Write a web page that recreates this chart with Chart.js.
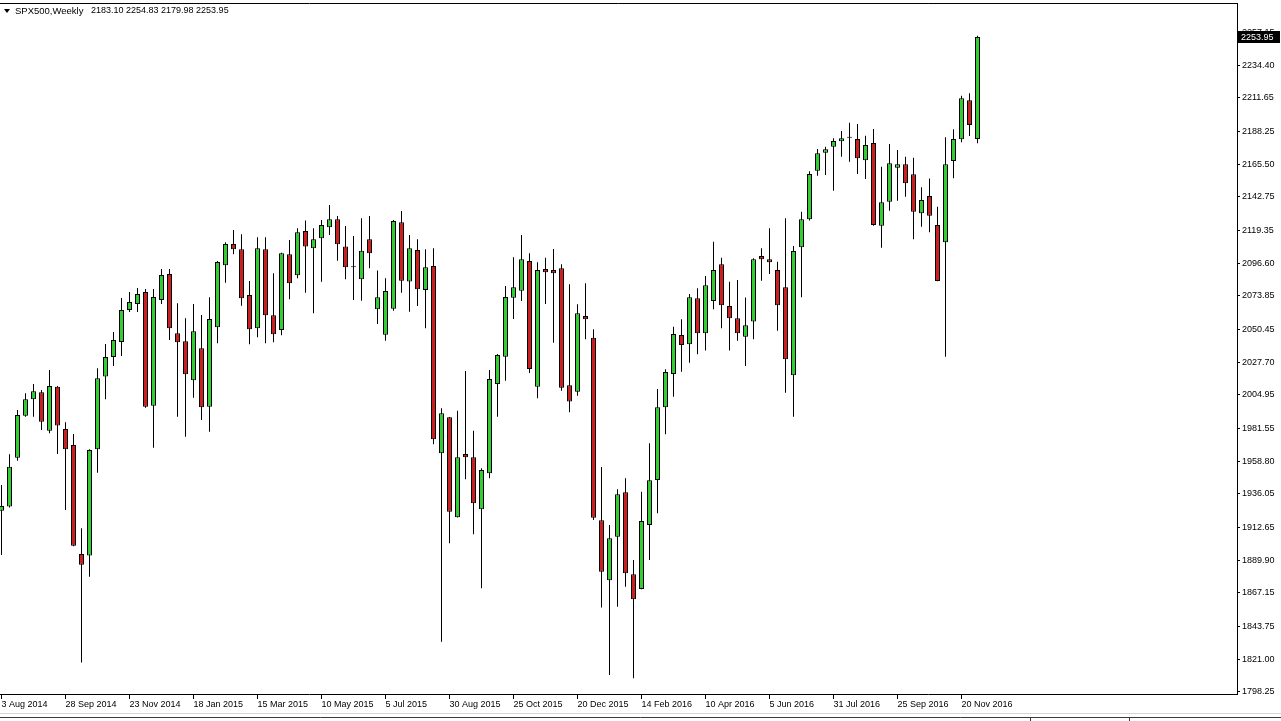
<!DOCTYPE html>
<html>
<head>
<meta charset="utf-8">
<title>SPX500,Weekly</title>
<script src="https://cdn.jsdelivr.net/npm/chart.js@4.4.1/dist/chart.umd.min.js"></script>
<style>
  html, body { margin: 0; padding: 0; background: #fff; }
  #wrap { width: 1281px; height: 721px; position: relative; }
</style>
</head>
<body>
<div id="wrap"><canvas id="chart" width="1281" height="721"></canvas></div>
<script>
const symbolTitle = 'SPX500,Weekly';
const lastBar = ['2183.10', '2254.83', '2179.98', '2253.95'];

// one tick label every 8 weeks, starting at the first candle
const xTickLabels = [
    '3 Aug 2014', '28 Sep 2014', '23 Nov 2014', '18 Jan 2015', '15 Mar 2015', '10 May 2015',
    '5 Jul 2015', '30 Aug 2015', '25 Oct 2015', '20 Dec 2015', '14 Feb 2016', '10 Apr 2016',
    '5 Jun 2016', '31 Jul 2016', '25 Sep 2016', '20 Nov 2016',
];

const yTickValues = [
    1798.25, 1821.00, 1843.75, 1867.15, 1889.90, 1912.65, 1936.05, 1958.80, 1981.55, 2004.95, 2027.70,
    2050.45, 2073.85, 2096.60, 2119.35, 2142.75, 2165.50, 2188.25, 2211.65, 2234.40, 2257.15,
];

// weekly candles, 3 Aug 2014 .. 4 Dec 2016
const openPrices = [
    1924.3, 1927.1, 1961.2, 1990.4, 2001.8, 2006.7, 1980.0, 2010.6, 1981.2, 1970.0,
    1894.1, 1893.0, 1967.0, 2017.6, 2031.3, 2041.7, 2064.0, 2068.2, 2076.5, 1997.4,
    2071.0, 2089.1, 2047.8, 2042.2, 2015.1, 2037.3, 1996.7, 2052.0, 2095.1, 2109.9,
    2106.2, 2074.4, 2051.3, 2106.2, 2060.3, 2050.1, 2102.8, 2088.1, 2119.0, 2106.9,
    2113.9, 2121.6, 2127.1, 2108.1, 2093.7, 2085.4, 2113.2, 2064.5, 2046.8, 2064.9,
    2125.0, 2083.9, 2105.8, 2077.9, 2094.6, 1964.2, 1989.3, 1919.7, 1963.8, 1961.4,
    1925.3, 1950.3, 2012.5, 2031.5, 2072.5, 2077.4, 2098.1, 2010.6, 2092.5, 2091.8,
    2093.0, 2011.6, 2007.1, 2059.8, 2044.7, 1917.6, 1875.8, 1906.2, 1937.1, 1880.0,
    1869.8, 1914.3, 1945.6, 1996.3, 2019.4, 2046.6, 2040.1, 2072.1, 2047.8, 2070.3,
    2095.8, 2066.8, 2058.2, 2045.4, 2055.9, 2101.6, 2099.3, 2091.8, 2079.8, 2018.5,
    2107.6, 2127.1, 2161.0, 2173.5, 2177.7, 2181.4, 2183.9, 2183.0, 2168.2, 2180.3,
    2122.7, 2139.4, 2163.0, 2165.4, 2158.4, 2131.3, 2143.3, 2123.2, 2111.1, 2167.7,
    2182.8, 2210.0, 2183.10,
];
const highPrices = [
    1942.2, 1963.5, 1994.4, 2006.0, 2012.5, 2008.3, 2022.2, 2011.1, 1985.8, 1977.7,
    1912.0, 1967.0, 2023.4, 2040.3, 2048.7, 2072.3, 2076.5, 2079.3, 2078.6, 2078.6,
    2092.5, 2092.5, 2068.7, 2058.2, 2068.2, 2060.5, 2072.8, 2098.1, 2111.1, 2119.7,
    2116.7, 2084.2, 2114.6, 2114.6, 2089.5, 2103.8, 2112.7, 2120.9, 2126.2, 2120.9,
    2126.6, 2137.1, 2129.4, 2122.5, 2115.5, 2127.8, 2129.4, 2091.4, 2086.0, 2126.6,
    2132.9, 2116.2, 2113.2, 2106.2, 2106.9, 1995.6, 1989.5, 1993.9, 2021.5, 1980.0,
    1953.8, 2022.2, 2033.4, 2080.7, 2100.7, 2116.2, 2103.5, 2097.2, 2100.4, 2106.5,
    2095.8, 2081.9, 2067.9, 2082.6, 2050.6, 1954.7, 1914.3, 1939.2, 1946.8, 1890.0,
    1937.5, 1971.2, 2009.0, 2022.7, 2052.4, 2057.5, 2075.1, 2079.1, 2087.7, 2111.5,
    2100.4, 2083.7, 2084.9, 2072.6, 2100.0, 2106.9, 2120.9, 2097.6, 2127.8, 2108.5,
    2132.4, 2160.5, 2176.0, 2177.7, 2183.5, 2188.6, 2194.4, 2193.5, 2185.3, 2190.0,
    2163.7, 2179.5, 2175.4, 2170.7, 2170.0, 2149.4, 2155.6, 2135.9, 2184.2, 2189.8,
    2213.2, 2214.8, 2254.83,
];
const lowPrices = [
    1893.4, 1926.5, 1959.1, 1989.7, 1989.7, 1980.5, 1978.2, 1963.8, 1924.8, 1899.5,
    1818.5, 1878.3, 1950.7, 2001.8, 2025.0, 2032.0, 2062.6, 2062.6, 1996.0, 1968.1,
    2068.2, 2043.1, 1989.7, 1975.8, 2002.9, 1987.4, 1979.3, 2040.8, 2083.0, 2102.8,
    2067.0, 2040.1, 2045.0, 2040.8, 2041.5, 2046.4, 2071.4, 2086.0, 2076.0, 2061.7,
    2083.7, 2116.2, 2098.3, 2085.4, 2071.0, 2070.5, 2093.0, 2054.2, 2042.6, 2063.5,
    2076.0, 2062.8, 2066.8, 2051.3, 1970.5, 1833.1, 1901.6, 1919.5, 1946.1, 1907.9,
    1870.3, 1946.8, 1989.7, 2014.8, 2057.7, 2070.3, 2020.1, 2002.5, 2068.2, 2041.2,
    2007.8, 1992.8, 2004.3, 2043.6, 1917.8, 1856.8, 1809.9, 1857.4, 1871.4, 1807.6,
    1869.5, 1890.0, 1922.5, 1977.4, 2003.6, 2021.0, 2027.3, 2033.2, 2035.7, 2064.5,
    2051.3, 2035.7, 2042.6, 2025.0, 2043.6, 2084.4, 2089.0, 2049.6, 2006.4, 1989.7,
    2072.8, 2126.2, 2157.5, 2157.9, 2147.0, 2170.7, 2167.2, 2158.7, 2155.2, 2122.7,
    2107.4, 2133.1, 2140.1, 2142.9, 2113.2, 2122.0, 2118.1, 2084.0, 2031.5, 2155.7,
    2180.7, 2185.1, 2179.98,
];
const closePrices = [
    1927.5, 1954.9, 1990.9, 2001.8, 2007.4, 1986.2, 2011.1, 1983.5, 1967.0, 1899.9,
    1886.7, 1966.5, 2016.4, 2031.3, 2043.1, 2064.0, 2069.6, 2075.1, 1996.7, 2073.0,
    2088.4, 2051.3, 2041.5, 2019.2, 2049.2, 1996.3, 2057.7, 2097.4, 2109.9, 2106.2,
    2072.1, 2050.6, 2106.9, 2060.3, 2047.1, 2103.5, 2082.6, 2118.1, 2108.1, 2113.2,
    2123.2, 2127.1, 2109.7, 2093.7, 2094.4, 2105.3, 2103.5, 2072.8, 2077.2, 2126.0,
    2084.4, 2106.9, 2078.4, 2093.7, 1974.0, 1992.1, 1923.6, 1961.4, 1961.4, 1929.4,
    1952.6, 2016.0, 2032.7, 2073.0, 2079.9, 2099.3, 2022.9, 2091.8, 2090.2, 2089.5,
    2009.9, 2000.2, 2061.7, 2057.5, 1919.4, 1881.8, 1905.1, 1935.7, 1880.7, 1862.6,
    1917.1, 1945.4, 1996.3, 2020.8, 2047.3, 2039.6, 2072.8, 2047.8, 2081.2, 2091.8,
    2067.3, 2058.2, 2047.8, 2053.3, 2099.3, 2099.3, 2097.2, 2067.3, 2029.7, 2105.1,
    2127.1, 2158.7, 2173.1, 2175.9, 2181.6, 2183.5, 2184.6, 2169.6, 2178.9, 2123.2,
    2139.0, 2166.1, 2165.4, 2152.2, 2132.4, 2140.6, 2129.6, 2084.2, 2165.4, 2183.0,
    2211.4, 2192.8, 2253.95,
];

const bullColor = '#32cd32';
const bearColor = '#cc1f1f';

const bodies = openPrices.map((o, i) => ({ x: i, y: [o, closePrices[i]] }));
const wicks = lowPrices.map((l, i) => ({ x: i, y: [l, highPrices[i]] }));
const bodyColors = openPrices.map((o, i) => (closePrices[i] >= o ? bullColor : bearColor));

Chart.defaults.font.family = '"Liberation Sans", Arial, sans-serif';
Chart.defaults.font.size = 9;
Chart.defaults.color = '#000';

const PX_PER_WEEK = 8;
const X_MIN = -0.1875;

const terminalDecor = {
    id: 'terminalDecor',
    afterDraw(chart) {
        const { ctx, chartArea, scales, width } = chart;
        ctx.save();
        // top frame line
        ctx.strokeStyle = '#000';
        ctx.lineWidth = 1;
        ctx.beginPath();
        ctx.moveTo(chartArea.left, chartArea.top + 0.5);
        ctx.lineTo(chartArea.right + 0.5, chartArea.top + 0.5);
        ctx.stroke();

        // tab strip under the time scale
        ctx.strokeStyle = '#d6d6d6';
        ctx.beginPath();
        ctx.moveTo(0, 713.5);
        ctx.lineTo(width, 713.5);
        ctx.stroke();
        ctx.strokeStyle = '#3a3a3a';
        ctx.beginPath();
        ctx.moveTo(0, 717.5);
        ctx.lineTo(width, 717.5);
        ctx.moveTo(1030.5, 717.5);
        ctx.lineTo(1030.5, 721);
        ctx.moveTo(1129.5, 717.5);
        ctx.lineTo(1129.5, 721);
        ctx.stroke();

        // title with the last bar's OHLC
        ctx.fillStyle = '#000';
        ctx.beginPath();
        ctx.moveTo(4, 9);
        ctx.lineTo(10, 9);
        ctx.lineTo(7, 13);
        ctx.closePath();
        ctx.fill();
        ctx.font = '9.5px "Liberation Sans", Arial, sans-serif';
        ctx.textBaseline = 'middle';
        ctx.textAlign = 'left';
        ctx.fillText(symbolTitle, 15, 11);
        ctx.font = '9px "Liberation Sans", Arial, sans-serif';
        ctx.fillText(lastBar.join(' '), 91, 11);

        // last price marker on the price scale
        const py = Math.round(scales.y.getPixelForValue(closePrices[closePrices.length - 1]));
        ctx.fillStyle = '#000';
        ctx.fillRect(chartArea.right + 1, py - 6, 42, 12);
        ctx.fillStyle = '#fff';
        ctx.fillText(lastBar[3], chartArea.right + 4, py + 0.5);
        ctx.restore();
    },
};

new Chart(document.getElementById('chart'), {
    type: 'bar',
    data: {
        datasets: [
            {
                label: 'body',
                data: bodies,
                backgroundColor: bodyColors,
                borderColor: '#000',
                borderWidth: 1,
                borderSkipped: false,
                barThickness: 5,
                grouped: false,
                inflateAmount: 0,
                order: 0,
            },
            {
                label: 'wick',
                data: wicks,
                backgroundColor: '#000',
                borderWidth: 0,
                barThickness: 1,
                grouped: false,
                inflateAmount: 0,
                order: 1,
            },
        ],
    },
    options: {
        responsive: false,
        animation: false,
        devicePixelRatio: 1,
        layout: { padding: { top: 3, left: 0, right: 0, bottom: 0 } },
        plugins: {
            legend: { display: false },
            tooltip: { enabled: false },
        },
        scales: {
            x: {
                type: 'linear',
                position: 'bottom',
                offset: false,
                min: X_MIN,
                max: X_MIN + 1237 / PX_PER_WEEK,
                grid: {
                    offset: false,
                    drawOnChartArea: false,
                    drawTicks: true,
                    tickLength: 5,
                    color: '#000',
                },
                border: { display: true, color: '#000', width: 1 },
                ticks: {
                    autoSkip: false,
                    maxRotation: 0,
                    minRotation: 0,
                    align: 'start',
                    padding: 0,
                    color: '#000',
                    callback: (value, index) => xTickLabels[index],
                },
                afterBuildTicks: (axis) => {
                    axis.ticks = xTickLabels.map((_, k) => ({ value: k * PX_PER_WEEK }));
                },
                afterFit: (axis) => {
                    axis.height = 27;
                    axis.paddingLeft = 0;
                    axis.paddingRight = 0;
                },
            },
            y: {
                type: 'linear',
                position: 'right',
                min: 1796.65,
                max: 2277.7,
                beginAtZero: false,
                grid: {
                    drawOnChartArea: false,
                    drawTicks: true,
                    tickLength: 3,
                    color: '#000',
                },
                border: { display: true, color: '#000', width: 1 },
                ticks: {
                    padding: 2,
                    color: '#000',
                    callback: (value) => Number(value).toFixed(2),
                },
                afterBuildTicks: (axis) => {
                    axis.ticks = yTickValues.map((v) => ({ value: v }));
                },
                afterFit: (axis) => {
                    axis.width = 44;
                    axis.paddingTop = 0;
                    axis.paddingBottom = 0;
                },
            },
        },
    },
    plugins: [terminalDecor],
});
</script>
</body>
</html>
